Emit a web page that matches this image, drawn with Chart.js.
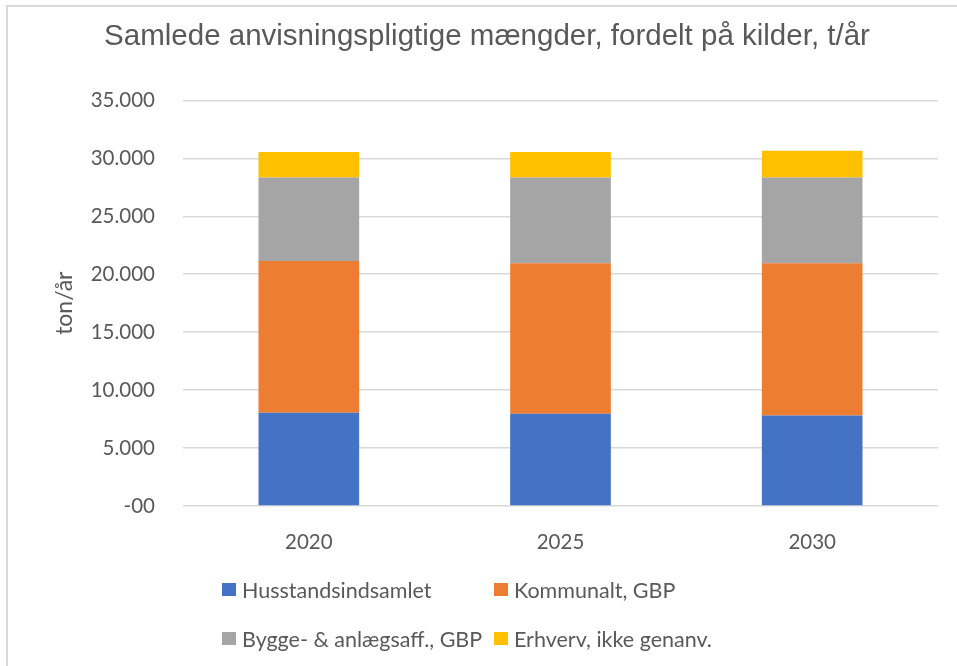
<!DOCTYPE html>
<html>
<head>
<meta charset="utf-8">
<script src="https://cdn.jsdelivr.net/npm/chart.js@4/dist/chart.umd.min.js"></script>
<style>
  html, body { margin: 0; padding: 0; background: #fff; }
  #wrap { position: relative; width: 957px; height: 666px; overflow: hidden; }
  #frame { position: absolute; left: 6px; top: 5px; right: -10px; bottom: -10px;
           border-left: 2px solid #d9d9d9; border-top: 2px solid #d9d9d9; }
  #legend { position: absolute; left: 222px; top: 576px; display: grid;
            grid-template-columns: 272px auto; row-gap: 22px;
            font-family: Lato, sans-serif; font-size: 21.5px; color: #595959; }
  #legend .item { display: flex; align-items: center; height: 27px; white-space: nowrap; }
  #legend .box { width: 14px; height: 13px; margin-right: 6px; }
</style>
</head>
<body>
<div id="wrap">
  <canvas id="chart" width="957" height="666"></canvas>
  <div id="frame"></div>
  <div id="legend"></div>
</div>
<script>
// ---------- data ----------
const years = ['2020', '2025', '2030'];
const husstand = [8050, 7950, 7800];
const kommunalt = [13100, 13000, 13150];
const bygge = [7200, 7400, 7400];
const erhverv = [2200, 2200, 2300];
const seriesNames = ['Husstandsindsamlet', 'Kommunalt, GBP', 'Bygge- & anlægsaff., GBP', 'Erhverv, ikke genanv.'];
const seriesColors = ['#4472C4', '#ED7D31', '#A5A5A5', '#FFC000'];
const yTicks = [0, 5000, 10000, 15000, 20000, 25000, 30000, 35000];

const textColor = '#595959';

function fmt(v) {
    if (v === 0) return '-00';
    return String(v).replace(/\B(?=(\d{3})+(?!\d))/g, '.');
}

const allSeries = [husstand, kommunalt, bygge, erhverv];
const datasets = allSeries.map((vals, s) => ({
    label: seriesNames[s],
    data: vals,
    backgroundColor: seriesColors[s],
    borderWidth: 0,
    categoryPercentage: 0.4,
    barPercentage: 1
}));

new Chart(document.getElementById('chart'), {
    type: 'bar',
    data: { labels: years, datasets: datasets },
    options: {
        responsive: false,
        animation: false,
        layout: { padding: { left: 36, right: 19, top: 0, bottom: 0 } },
        plugins: {
            legend: { display: false },
            tooltip: { enabled: false },
            title: {
                display: true,
                text: 'Samlede anvisningspligtige mængder, fordelt på kilder, t/år',
                color: textColor,
                font: { family: 'Liberation Sans', size: 29.5, weight: 'normal' },
                padding: { top: 19, bottom: 46 }
            }
        },
        scales: {
            x: {
                stacked: true,
                grid: { display: false },
                border: { display: false },
                afterFit: scale => { scale.height = 160; },
                ticks: {
                    color: textColor,
                    padding: 16,
                    font: { family: 'Lato', size: 20.5 }
                }
            },
            y: {
                stacked: true,
                min: 0,
                max: 35000,
                grid: { color: '#d9d9d9', lineWidth: 1.5, drawTicks: false },
                border: { display: false },
                afterBuildTicks: axis => { axis.ticks = yTicks.map(v => ({ value: v })); },
                afterFit: scale => { scale.width = 147; },
                ticks: {
                    color: textColor,
                    padding: 28,
                    font: { family: 'Lato', size: 20.5 },
                    callback: v => fmt(v)
                },
                title: {
                    display: true,
                    text: 'ton/år',
                    color: textColor,
                    font: { family: 'Lato', size: 23 },
                    padding: { top: 15, bottom: 0 }
                }
            }
        }
    }
});

// ---------- html legend ----------
const legend = document.getElementById('legend');
[0, 1, 2, 3].forEach(s => {
    const item = document.createElement('div');
    item.className = 'item';
    item.innerHTML = `<span class="box" style="background:${seriesColors[s]}"></span><span>${seriesNames[s]}</span>`;
    legend.appendChild(item);
});
</script>
</body>
</html>
